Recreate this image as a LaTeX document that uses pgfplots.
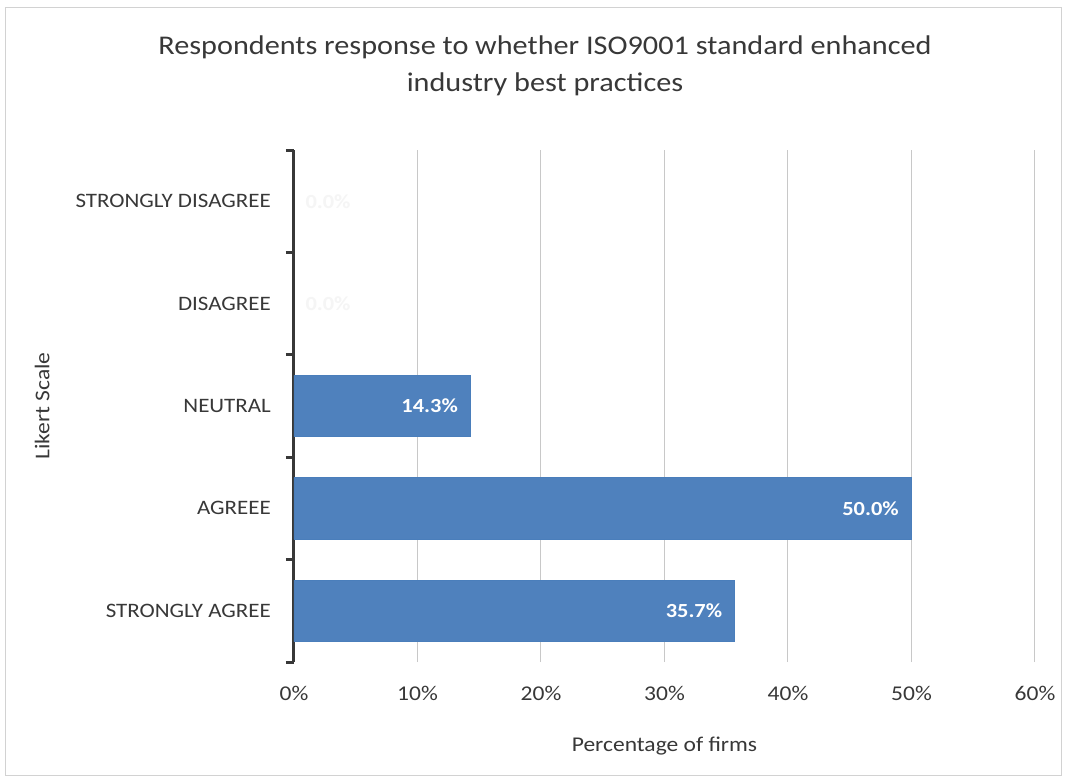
\documentclass[border=0pt]{standalone}
\usepackage{fontspec}
\setmainfont{Carlito}[FakeStretch=1.12]
\usepackage{pgfplots}
\pgfplotsset{compat=1.18}
\definecolor{barblue}{HTML}{4F81BD}
\definecolor{baredge}{HTML}{4A7EBB}
\definecolor{txt}{HTML}{383838}
\definecolor{gridc}{HTML}{C8C8C8}
\begin{document}
\begin{tikzpicture}[x=1pt,y=1pt]
\fill[white] (0,0) rectangle (1066,780);
\draw[gray!35, line width=1pt] (5,5) rectangle (1061,772);
\node[align=center, text=txt, font=\fontsize{27}{37}\selectfont] at (545,714)
  {Respondents response to whether ISO9001 standard enhanced\\industry best practices};
\begin{axis}[
  at={(294pt,118pt)}, anchor=south west,
  scale only axis, width=741pt, height=512pt,
  xmin=0, xmax=60, ymin=-0.5, ymax=4.5,
  axis x line=bottom, axis y line=left,
  x axis line style={draw=none},
  y axis line style={-, line width=3pt, color=txt},
  /pgf/number format/assume math mode=true,
  xtick={0,10,...,60},
  xticklabels={0\%,10\%,20\%,30\%,40\%,50\%,60\%},
  xticklabel style={anchor=center, yshift=-31pt, text=txt, font=\fontsize{21}{24}\selectfont},
  x tick style={draw=none},
  xmajorgrids, major x grid style={gridc, line width=1pt},
  ytick={0,1,2,3,4},
  yticklabels={STRONGLY AGREE,AGREEE,NEUTRAL,DISAGREE,STRONGLY DISAGREE},
  yticklabel style={anchor=east, inner sep=0pt, xshift=-23pt, text=txt, font=\fontsize{20.5}{24}\selectfont},
  y tick style={line width=3pt, color=txt},
  major tick length=0pt,
  tick align=outside,
  extra y ticks={-0.5,0.5,1.5,2.5,3.5,4.5},
  extra y tick labels={},
  extra y tick style={major tick length=8pt, tick align=outside},
  xlabel={Percentage of firms},
  xlabel style={at={(axis description cs:0.5,0)}, anchor=center, yshift=-84pt, text=txt, font=\fontsize{21}{24}\selectfont},
  ylabel={Likert Scale},
  ylabel style={at={(axis description cs:-0.340,0.5)}, anchor=center, text=txt, font=\fontsize{21}{24}\selectfont},
  xbar, bar width=0.6, bar shift=0pt,
  clip=false,
]
\addplot[fill=barblue, draw=baredge, line width=0.8pt,
  nodes near coords={\pgfmathprintnumber[fixed,fixed zerofill,precision=1]{\pgfplotspointmeta}\%},
  nodes near coords style={anchor=east, xshift=-9pt, text=white, font=\bfseries\fontsize{20}{24}\selectfont},
  point meta=x]
  coordinates {(35.7,0) (50.0,1) (14.3,2)};
\addplot[draw=none, fill=none,
  nodes near coords={\pgfmathprintnumber[fixed,fixed zerofill,precision=1]{\pgfplotspointmeta}\%},
  nodes near coords style={anchor=west, xshift=8pt, text=white!96!black, font=\bfseries\fontsize{20}{24}\selectfont},
  point meta=x]
  coordinates {(0,3) (0,4)};
\end{axis}
\end{tikzpicture}
\end{document}
